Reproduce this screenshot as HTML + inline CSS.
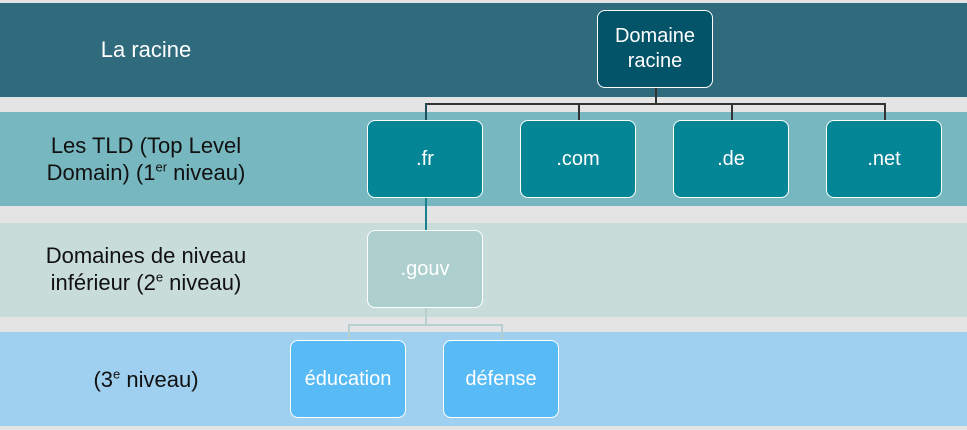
<!DOCTYPE html>
<html><head><style>
body{margin:0;width:967px;height:430px;background:#e4e4e4;position:relative;overflow:hidden;font-family:"Liberation Sans",sans-serif}
.band{position:absolute;left:0;width:967px;height:94px}
.lab{position:absolute;width:292px;text-align:center;font-size:22px;line-height:27px}
.box{position:absolute;width:114px;height:76px;border:1.5px solid #fff;border-radius:8px;color:#fff;display:flex;align-items:center;justify-content:center;text-align:center;font-size:20px;line-height:25px}
.l{position:absolute}
sup{font-size:13px;line-height:0}
</style></head><body>
<div class="band" style="top:3px;background:#2f6b7c"></div>
<div class="band" style="top:112px;background:#77b7c0"></div>
<div class="band" style="top:223px;background:#c8dcda"></div>
<div class="band" style="top:332px;background:#9fd0ef"></div>

<div class="lab" style="left:0;top:36px;color:#fff">La racine</div>
<div class="lab" style="left:0;top:132px;color:#111">Les TLD (Top Level<br>Domain) (1<sup>er</sup> niveau)</div>
<div class="lab" style="left:0;top:242px;color:#111">Domaines de niveau<br>inférieur (2<sup>e</sup> niveau)</div>
<div class="lab" style="left:0;top:366px;color:#111">(3<sup>e</sup> niveau)</div>

<div class="l" style="left:655px;top:88px;width:1.5px;height:16px;background:#333"></div>
<div class="l" style="left:425px;top:103px;width:461px;height:1.5px;background:#333"></div>
<div class="l" style="left:425px;top:103px;width:1.5px;height:17px;background:#1f4f5c"></div>
<div class="l" style="left:578px;top:103px;width:1.5px;height:17px;background:#333"></div>
<div class="l" style="left:731px;top:103px;width:1.5px;height:17px;background:#333"></div>
<div class="l" style="left:884px;top:103px;width:1.5px;height:17px;background:#333"></div>
<div class="l" style="left:425px;top:198px;width:1.5px;height:32px;background:#1b7f8f"></div>
<div class="l" style="left:425px;top:308px;width:1.5px;height:16px;background:#b5d0cf"></div>
<div class="l" style="left:348px;top:324px;width:155px;height:1.5px;background:#b5d0cf"></div>
<div class="l" style="left:348px;top:324px;width:1.5px;height:16px;background:#b5d0cf"></div>
<div class="l" style="left:501px;top:324px;width:1.5px;height:16px;background:#b5d0cf"></div>

<div class="box" style="left:597px;top:10px;background:#035468">Domaine<br>racine</div>
<div class="box" style="left:367px;top:120px;background:#058696">.fr</div>
<div class="box" style="left:520px;top:120px;background:#058696">.com</div>
<div class="box" style="left:673px;top:120px;background:#058696">.de</div>
<div class="box" style="left:826px;top:120px;background:#058696">.net</div>
<div class="box" style="left:367px;top:230px;background:#adcfcd">.gouv</div>
<div class="box" style="left:290px;top:340px;background:#58bbf6">éducation</div>
<div class="box" style="left:443px;top:340px;background:#58bbf6">défense</div>
</body></html>
